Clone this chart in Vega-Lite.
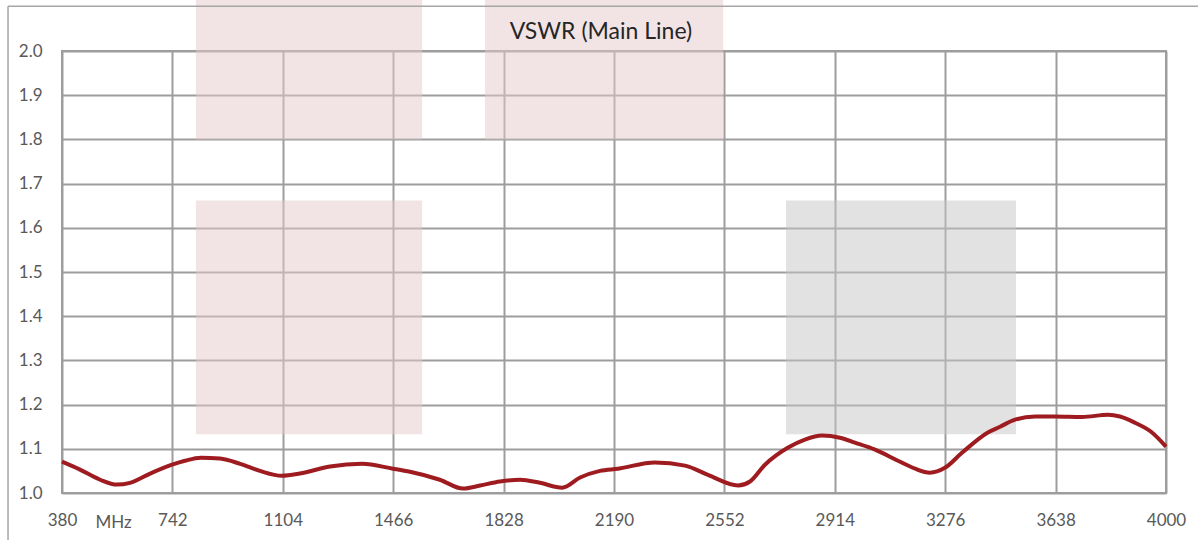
{
  "$schema": "https://vega.github.io/schema/vega-lite/v6.json",
  "autosize": "none",
  "width": 1104,
  "height": 442,
  "padding": {"left": 62, "top": 51, "right": 32, "bottom": 47},
  "background": "white",
  "config": {
    "view": {"stroke": "#9d9d9d", "strokeWidth": 2},
    "font": "Lato"
  },
  "datasets": {
    "vswr": [
      {"mhz": 380, "vswr": 1.071},
      {"mhz": 439, "vswr": 1.053},
      {"mhz": 505, "vswr": 1.030},
      {"mhz": 560, "vswr": 1.019},
      {"mhz": 603, "vswr": 1.023},
      {"mhz": 669, "vswr": 1.044},
      {"mhz": 741, "vswr": 1.064},
      {"mhz": 783, "vswr": 1.073},
      {"mhz": 836, "vswr": 1.080},
      {"mhz": 898, "vswr": 1.078},
      {"mhz": 964, "vswr": 1.066},
      {"mhz": 1029, "vswr": 1.050},
      {"mhz": 1101, "vswr": 1.039},
      {"mhz": 1160, "vswr": 1.044},
      {"mhz": 1259, "vswr": 1.060},
      {"mhz": 1364, "vswr": 1.066},
      {"mhz": 1465, "vswr": 1.055},
      {"mhz": 1521, "vswr": 1.048},
      {"mhz": 1619, "vswr": 1.030},
      {"mhz": 1695, "vswr": 1.010},
      {"mhz": 1751, "vswr": 1.017},
      {"mhz": 1816, "vswr": 1.026},
      {"mhz": 1882, "vswr": 1.030},
      {"mhz": 1947, "vswr": 1.023},
      {"mhz": 2020, "vswr": 1.012},
      {"mhz": 2079, "vswr": 1.035},
      {"mhz": 2144, "vswr": 1.050},
      {"mhz": 2203, "vswr": 1.055},
      {"mhz": 2324, "vswr": 1.069},
      {"mhz": 2423, "vswr": 1.062},
      {"mhz": 2498, "vswr": 1.041},
      {"mhz": 2597, "vswr": 1.017},
      {"mhz": 2636, "vswr": 1.026},
      {"mhz": 2685, "vswr": 1.064},
      {"mhz": 2761, "vswr": 1.103},
      {"mhz": 2816, "vswr": 1.121},
      {"mhz": 2872, "vswr": 1.130},
      {"mhz": 2931, "vswr": 1.125},
      {"mhz": 2980, "vswr": 1.114},
      {"mhz": 3046, "vswr": 1.098},
      {"mhz": 3121, "vswr": 1.073},
      {"mhz": 3177, "vswr": 1.055},
      {"mhz": 3226, "vswr": 1.046},
      {"mhz": 3275, "vswr": 1.057},
      {"mhz": 3331, "vswr": 1.091},
      {"mhz": 3416, "vswr": 1.137},
      {"mhz": 3456, "vswr": 1.150},
      {"mhz": 3505, "vswr": 1.166},
      {"mhz": 3571, "vswr": 1.173},
      {"mhz": 3636, "vswr": 1.173},
      {"mhz": 3725, "vswr": 1.172},
      {"mhz": 3810, "vswr": 1.177},
      {"mhz": 3849, "vswr": 1.173},
      {"mhz": 3898, "vswr": 1.159},
      {"mhz": 3954, "vswr": 1.137},
      {"mhz": 4000, "vswr": 1.105}
    ],
    "zones": [
      {"x1": 819, "x2": 1561, "y1": 1.8, "y2": 2.12, "kind": "pink"},
      {"x1": 1767, "x2": 2548, "y1": 1.8, "y2": 2.12, "kind": "pink"},
      {"x1": 819, "x2": 1561, "y1": 1.133, "y2": 1.662, "kind": "pink"},
      {"x1": 2754, "x2": 3508, "y1": 1.133, "y2": 1.662, "kind": "gray"}
    ],
    "frame": [
      {"x1": 203, "x2": 4300, "y1": 2.101, "y2": 2.101},
      {"x1": 203, "x2": 203, "y1": 2.101, "y2": 0.8}
    ],
    "titles": [
      {"label": "VSWR (Main Line)", "mhz": 2147, "v": 2.027}
    ]
  },
  "layer": [
    {
      "data": {"name": "zones"},
      "mark": {"type": "rect", "clip": false, "opacity": 0.5},
      "encoding": {
        "x": {"field": "x1", "type": "quantitative", "scale": {"domain": [380, 4000], "zero": false, "nice": false},
          "axis": {
            "values": [380, 742, 1104, 1466, 1828, 2190, 2552, 2914, 3276, 3638, 4000],
            "format": "d",
            "grid": true, "gridColor": "#9d9d9d", "gridWidth": 2,
            "domain": false, "ticks": false,
            "labelFont": "Lato", "labelFontSize": 17, "labelColor": "#595959",
            "labelPadding": 19, "labelFlush": false,
            "title": "MHz", "titleFont": "Lato", "titleFontSize": 17, "titleFontWeight": "normal",
            "titleColor": "#595959", "titleX": 51, "titleY": 29, "titleBaseline": "middle", "titleAlign": "center"
          }},
        "x2": {"field": "x2"},
        "y": {"field": "y1", "type": "quantitative", "scale": {"domain": [1, 2], "zero": false, "nice": false},
          "axis": {
            "values": [1.0, 1.1, 1.2, 1.3, 1.4, 1.5, 1.6, 1.7, 1.8, 1.9, 2.0],
            "format": ".1f",
            "grid": true, "gridColor": "#9d9d9d", "gridWidth": 2,
            "domain": false, "ticks": false,
            "labelFont": "Lato", "labelFontSize": 17, "labelColor": "#595959",
            "labelPadding": 20, "title": null
          }},
        "y2": {"field": "y2"},
        "color": {"field": "kind", "type": "nominal",
          "scale": {"domain": ["pink", "gray"], "range": ["#e6c9cb", "#c6c6c6"]}, "legend": null}
      }
    },
    {
      "data": {"name": "frame"},
      "mark": {"type": "rule", "clip": false, "color": "#a6a6a6", "strokeWidth": 1.5},
      "encoding": {
        "x": {"field": "x1", "type": "quantitative", "scale": {"domain": [380, 4000], "zero": false, "nice": false}},
        "x2": {"field": "x2"},
        "y": {"field": "y1", "type": "quantitative", "scale": {"domain": [1, 2], "zero": false, "nice": false}},
        "y2": {"field": "y2"}
      }
    },
    {
      "data": {"name": "titles"},
      "mark": {"type": "text", "clip": false, "font": "Lato", "fontSize": 23, "color": "#262626", "baseline": "alphabetic", "align": "center"},
      "encoding": {
        "x": {"field": "mhz", "type": "quantitative", "scale": {"domain": [380, 4000], "zero": false, "nice": false}},
        "y": {"field": "v", "type": "quantitative", "scale": {"domain": [1, 2], "zero": false, "nice": false}},
        "text": {"field": "label"}
      }
    },
    {
      "data": {"name": "vswr"},
      "mark": {"type": "line", "color": "#9e1b20", "strokeWidth": 4, "interpolate": "monotone"},
      "encoding": {
        "x": {"field": "mhz", "type": "quantitative", "scale": {"domain": [380, 4000], "zero": false, "nice": false}},
        "y": {"field": "vswr", "type": "quantitative", "scale": {"domain": [1, 2], "zero": false, "nice": false}}
      }
    }
  ]
}
